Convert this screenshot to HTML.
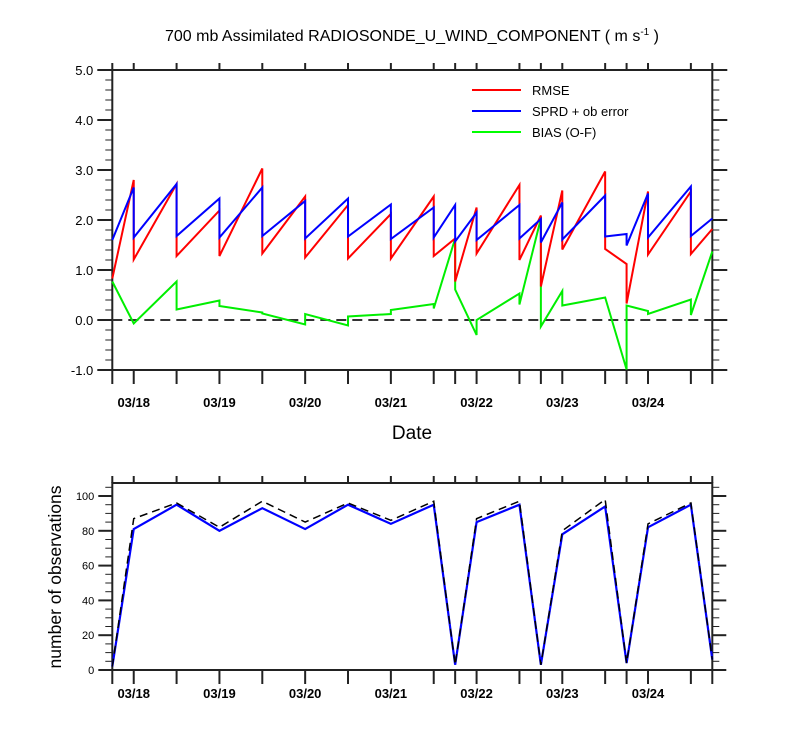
<!DOCTYPE html>
<html><head><meta charset="utf-8"><style>
html,body{margin:0;padding:0;background:#fff;}
svg{display:block;font-family:"Liberation Sans",sans-serif;}
</style></head><body>
<svg id="chart" width="800" height="750" viewBox="0 0 800 750" xmlns="http://www.w3.org/2000/svg">
<text x="412" y="41" font-size="16" text-anchor="middle">700 mb Assimilated RADIOSONDE_U_WIND_COMPONENT ( m s<tspan dy="-6" font-size="10">-1</tspan><tspan dy="6"> )</tspan></text>
<g id="topPanel"></g>
<g id="botPanel"></g>
<text x="412" y="439" font-size="19" text-anchor="middle">Date</text>
<text transform="translate(61,577) rotate(-90)" font-size="17.5" text-anchor="middle">number of observations</text>
<g>
<line x1="472" y1="90" x2="521" y2="90" stroke="#f00" stroke-width="2"/>
<text x="532" y="95" font-size="13">RMSE</text>
<line x1="472" y1="111" x2="521" y2="111" stroke="#00f" stroke-width="2"/>
<text x="532" y="116" font-size="13">SPRD + ob error</text>
<line x1="472" y1="132" x2="521" y2="132" stroke="#0f0" stroke-width="2"/>
<text x="532" y="137" font-size="13">BIAS (O-F)</text>
</g>
</svg>
<script>
// hours since 03/17 18Z
const times=[0,6,18,30,42,54,66,78,90,96,102,114,120,126,138,144,150,162,168];
const rmseEnd=[0.83,2.8,2.72,2.19,3.03,2.47,2.3,2.12,2.47,1.63,2.25,2.7,2.09,2.59,2.97,1.12,2.57,2.57,1.82];
const rmseStart=[0.83,1.21,1.28,1.28,1.33,1.25,1.23,1.23,1.28,0.77,1.33,1.2,0.67,1.41,1.42,0.33,1.31,1.32,1.82];
const sprdEnd=[1.6,2.65,2.72,2.43,2.65,2.38,2.43,2.31,2.25,2.3,2.15,2.3,2.02,2.35,2.49,1.72,2.53,2.67,2.03];
const sprdStart=[1.6,1.65,1.68,1.65,1.68,1.63,1.67,1.62,1.65,1.57,1.6,1.63,1.55,1.61,1.67,1.49,1.65,1.68,2.03];
const biasEnd=[0.77,-0.07,0.77,0.39,0.15,-0.09,-0.11,0.12,0.32,1.63,-0.3,0.53,2.03,0.58,0.45,-0.99,0.18,0.41,1.37];
const biasStart=[0.77,-0.07,0.21,0.28,0.13,0.12,0.07,0.2,0.23,0.61,0,0.31,-0.13,0.29,0.45,0.29,0.12,0.1,1.37];
const obsUsed=[2,81,95,80,93,81,95,84,95,3,85,95,3,78,94,4,82,95,6];
const obsPossible=[2,87,96,82,97,85,96,86,97,3,87,97,3,80,98,4,84,96,6];
const dayLabels=["03/18","03/19","03/20","03/21","03/22","03/23","03/24"];
const dayTimes=[6,30,54,78,102,126,150];
const topTicks=[-1,0,1,2,3,4,5];
const botTicks=[0,20,40,60,80,100];

const NS="http://www.w3.org/2000/svg";
const X0=112.3,X1=712.3;
const x=t=>X0+t*(X1-X0)/168;
const y1=v=>320-50*v;
const y2=v=>670-1.74*v;
function mk(tag,attrs,parent){const e=document.createElementNS(NS,tag);for(const k in attrs)e.setAttribute(k,attrs[k]);parent.appendChild(e);return e;}
const gTop=document.getElementById('topPanel'),gBot=document.getElementById('botPanel');
const K="#222";
function frame(g,yt,yb,name,labOff){
  let r=mk('rect',{x:X0,y:yt,width:X1-X0,height:yb-yt,fill:'none',stroke:K,'stroke-width':2},g);
  
  
  times.forEach(t=>{
    let l=mk('line',{x1:x(t),x2:x(t),y1:yb,y2:yb+14,stroke:K,'stroke-width':2},g);
    
    
    let l2=mk('line',{x1:x(t),x2:x(t),y1:yt,y2:yt-7,stroke:K,'stroke-width':2},g);
    
    
  });
  dayTimes.forEach((t,i)=>{
    let tx=mk('text',{x:x(t),y:yb+labOff,'font-size':13,'text-anchor':'middle','font-weight':600},g);
    tx.textContent=dayLabels[i];
    
    
  });
}
frame(gTop,70,370,'top',37);
frame(gBot,483,670,'bottom',28);
for(let v=-1;v<=5.001;v+=0.2){
  const maj=Math.abs(v-Math.round(v))<0.01;
  const L=maj?15:7;
  [[X0,X0-L],[X1,X1+L]].forEach(p=>{
    let l=mk('line',{x1:p[0],x2:p[1],y1:y1(v),y2:y1(v),stroke:K,'stroke-width':maj?2:1},gTop);
    
    
  });
}
topTicks.forEach(v=>{
  let tx=mk('text',{x:X0-19,y:y1(v)+5,'font-size':13,'text-anchor':'end'},gTop);
  tx.textContent=v.toFixed(1);
  
  
});
for(let v=0;v<=105;v+=5){
  const maj=v%20===0;const L=maj?14:7;
  [[X0,X0-L],[X1,X1+L]].forEach(p=>{
    let l=mk('line',{x1:p[0],x2:p[1],y1:y2(v),y2:y2(v),stroke:K,'stroke-width':maj?2:1},gBot);
    
    
  });
}
botTicks.forEach(v=>{
  let tx=mk('text',{x:X0-18,y:y2(v)+4,'font-size':11,'text-anchor':'end'},gBot);
  tx.textContent=v;
  
  
});
let z=mk('line',{x1:X0,x2:X1,y1:y1(0),y2:y1(0),stroke:'#333','stroke-width':2,'stroke-dasharray':'10,6'},gTop);


function saw(endA,startA,color,name){
  const pts=[];
  times.forEach((t,i)=>{pts.push(x(t)+','+y1(endA[i]));pts.push(x(t)+','+y1(startA[i]));});
  let p=mk('polyline',{points:pts.join(' '),fill:'none',stroke:color,'stroke-width':2},gTop);
  
  
}
saw(biasEnd,biasStart,'#00ee00','bias-line');
saw(rmseEnd,rmseStart,'#ff0000','rmse-line');
saw(sprdEnd,sprdStart,'#0000ff','sprd-line');
let p1=mk('polyline',{points:times.map((t,i)=>x(t)+','+y2(obsUsed[i])).join(' '),fill:'none',stroke:'#0000ff','stroke-width':2.2},gBot);


let p2=mk('polyline',{points:times.map((t,i)=>x(t)+','+y2(obsPossible[i])).join(' '),fill:'none',stroke:'#000','stroke-width':1.5,'stroke-dasharray':'8,5'},gBot);


</script>
</body></html>
